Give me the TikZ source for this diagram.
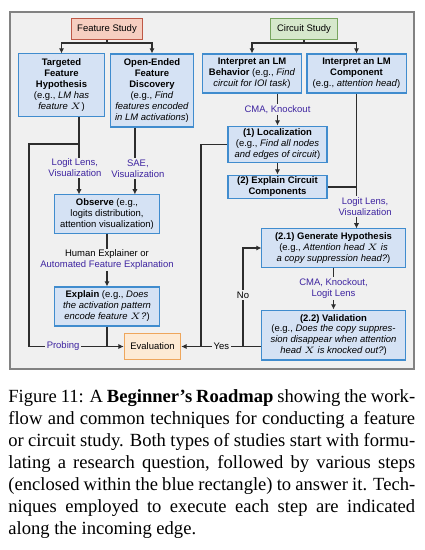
\documentclass[tikz,border=0pt]{standalone}
\usepackage{amsmath}
\usepackage{fontspec}
\setmainfont{Liberation Serif}
\setsansfont{Liberation Sans}
\usepackage{tikz}
\usetikzlibrary{arrows.meta, positioning, calc}

\definecolor{bgcol}{RGB}{240,240,240}
\definecolor{framecol}{RGB}{130,130,130}
\definecolor{boxfill}{RGB}{213,226,244}
\definecolor{boxline}{RGB}{64,140,206}
\definecolor{featfill}{RGB}{246,206,192}
\definecolor{featline}{RGB}{190,88,70}
\definecolor{circfill}{RGB}{214,232,204}
\definecolor{circline}{RGB}{120,165,95}
\definecolor{evalfill}{RGB}{253,234,212}
\definecolor{evalline}{RGB}{238,166,92}
\definecolor{techcol}{RGB}{62,36,160}
\definecolor{edgecol}{RGB}{45,45,45}

\newcommand{\diagfont}{\sffamily\fontsize{5.1}{5.9}\selectfont}
\newcommand{\capline}[1]{\makebox[219pt][s]{#1}}

\begin{document}
\begin{tikzpicture}[
        x=0.5383pt, y=-0.5383pt,
        block/.style={rectangle, draw=boxline, fill=boxfill, line width=0.55pt, align=center, font=\diagfont, inner sep=0.5pt},
        feature/.style={rectangle, draw=featline, fill=featfill, line width=0.55pt, font=\diagfont, minimum width=37.7pt, minimum height=8.6pt},
        circuit/.style={rectangle, draw=circline, fill=circfill, line width=0.55pt, font=\diagfont, minimum width=35.5pt, minimum height=8.6pt},
        evalbox/.style={rectangle, draw=evalline, fill=evalfill, line width=0.55pt, font=\diagfont, minimum width=29.6pt, minimum height=14.5pt},
        technique/.style={font=\diagfont, text=techcol, fill=bgcol, align=center, inner sep=0.8pt},
        edge/.style={draw=edgecol, line width=0.65pt},
        arrow/.style={edge, -{Latex[length=2.8pt,width=2.8pt]}}
    ]
        \useasboundingbox (0,0) rectangle (425,550);

        % Frame
        \draw[framecol, fill=bgcol, line width=0.8pt] (10,12) rectangle (414,369);

        % Studies
        \node[feature] (feat) at (107,29) {Feature Study};
        \node[circuit] (circ) at (304,29) {Circuit Study};

        % Feature study
        \node[block, minimum width=45.8pt, minimum height=33.4pt] (targ) at (61.5,85) {\textbf{Targeted}\\\textbf{Feature}\\\textbf{Hypothesis}\\(e.g., \textit{LM has}\\\textit{feature $X$})};
        \node[block, minimum width=45.2pt, minimum height=39.3pt] (open) at (152,90.5) {\textbf{Open-Ended}\\\textbf{Feature}\\\textbf{Discovery}\\(e.g., \textit{Find}\\\textit{features encoded}\\\textit{in LM activations})};
        \node[block, minimum width=56pt, minimum height=20.5pt] (obs) at (107,214) {\textbf{Observe} (e.g.,\\logits distribution,\\attention visualization)};
        \node[block, minimum width=56pt, minimum height=21pt] (expl) at (107,306.5) {\textbf{Explain} (e.g., \textit{Does}\\\textit{the activation pattern}\\\textit{encode feature $X$?})};

        % Evaluation
        \node[evalbox] (eval) at (152.5,346.5) {Evaluation};

        % Circuit study
        \node[block, minimum width=52.8pt, minimum height=21pt] (behav) at (252,73.5) {\textbf{Interpret an LM}\\\textbf{Behavior} (e.g., \textit{Find}\\\textit{circuit for IOI task})};
        \node[block, minimum width=53.3pt, minimum height=21pt] (comp) at (356.5,73.5) {\textbf{Interpret an LM}\\\textbf{Component}\\(e.g., \textit{attention head})};
        \node[block, minimum width=53.3pt, minimum height=19.9pt] (loc) at (277.5,144.5) {\textbf{(1) Localization}\\(e.g., \textit{Find all nodes}\\\textit{and edges of circuit})};
        \node[block, minimum width=53.3pt, minimum height=12.9pt] (expc) at (277.5,187) {\textbf{(2) Explain Circuit}\\\textbf{Components}};
        \node[block, minimum width=77pt, minimum height=20.5pt] (gen) at (333.5,248) {\textbf{(2.1) Generate Hypothesis}\\(e.g., \textit{Attention head $X$ is}\\\textit{a copy suppression head?})};
        \node[block, minimum width=77pt, minimum height=26.9pt] (val) at (333.5,335) {\textbf{(2.2) Validation}\\(e.g., \textit{Does the copy suppres-}\\\textit{sion disappear when attention}\\\textit{head $X$ is knocked out?})};

        % Split points
        \coordinate (fsplit) at (107,43);
        \coordinate (csplit) at (304,43);
        \coordinate (tsplit) at (79,144);
        \coordinate (lcorner) at (29,144);
        \coordinate (rjoin) at (201,346.5);
        \coordinate (nosplit) at (243,346.5);

        % Arrows (feature study)
        \draw[edge] (feat.south) -- (fsplit);
        \draw[arrow] (fsplit) -| (targ.north);
        \draw[arrow] (fsplit) -| (open.north);

        \draw[arrow] (targ.south -| tsplit) -- node[technique, pos=0.66, xshift=-2.2pt] {Logit Lens,\\Visualization} (obs.north -| tsplit);
        \draw[arrow] ([xshift=-9.2pt]open.south) -- node[technique, pos=0.61, xshift=1.6pt] {SAE,\\Visualization} ([xshift=-9.2pt]open.south |- obs.north);
        \draw[arrow] (obs) -- node[technique, text=black] {Human Explainer or\\\textcolor{techcol}{Automated Feature Explanation}} (expl);

        \draw[arrow] (tsplit) -- (lcorner) |- node[technique, pos=0.68] {Probing} (eval.west);
        \draw[edge] (expl.south) -- (expl.south |- eval.west);

        % Arrows (circuit study)
        \draw[edge] (circ.south) -- (csplit);
        \draw[arrow] (csplit) -| (behav.north);
        \draw[arrow] (csplit) -| (comp.north);

        \draw[arrow] (loc.north |- behav.south) -- node[technique] {CMA, Knockout} (loc.north);
        \draw[arrow] (loc) -- (expc);
        \draw[edge] (loc.west) -| (rjoin);

        \draw[arrow] (comp.south) -- node[technique, pos=0.835, xshift=4.6pt] {Logit Lens,\\Visualization} (comp.south |- gen.north);
        \draw[edge] (expc.east) -- (expc.east -| comp.south);

        \draw[arrow] (gen) -- node[technique] {CMA, Knockout,\\Logit Lens} (val);
        \draw[arrow] (val.west |- eval.east) -- node[technique, text=black] {Yes} (eval.east);
        \draw[arrow] (nosplit) |- node[technique, text=black, pos=0.26] {No} (gen.west);

        % Caption
        \node[anchor=north west, inner sep=0pt, align=left, font=\fontsize{10}{11.84}\selectfont] (caption) at (8,389) {%
            \capline{Figure 11: A \textbf{Beginner’s Roadmap} showing the work-}\\
            \capline{flow and common techniques for conducting a feature}\\
            \capline{or circuit study. Both types of studies start with formu-}\\
            \capline{lating a research question, followed by various steps}\\
            \capline{(enclosed within the blue rectangle) to answer it. Tech-}\\
            \capline{niques employed to execute each step are indicated}\\
            along the incoming edge.};
    \end{tikzpicture}
\end{document}
